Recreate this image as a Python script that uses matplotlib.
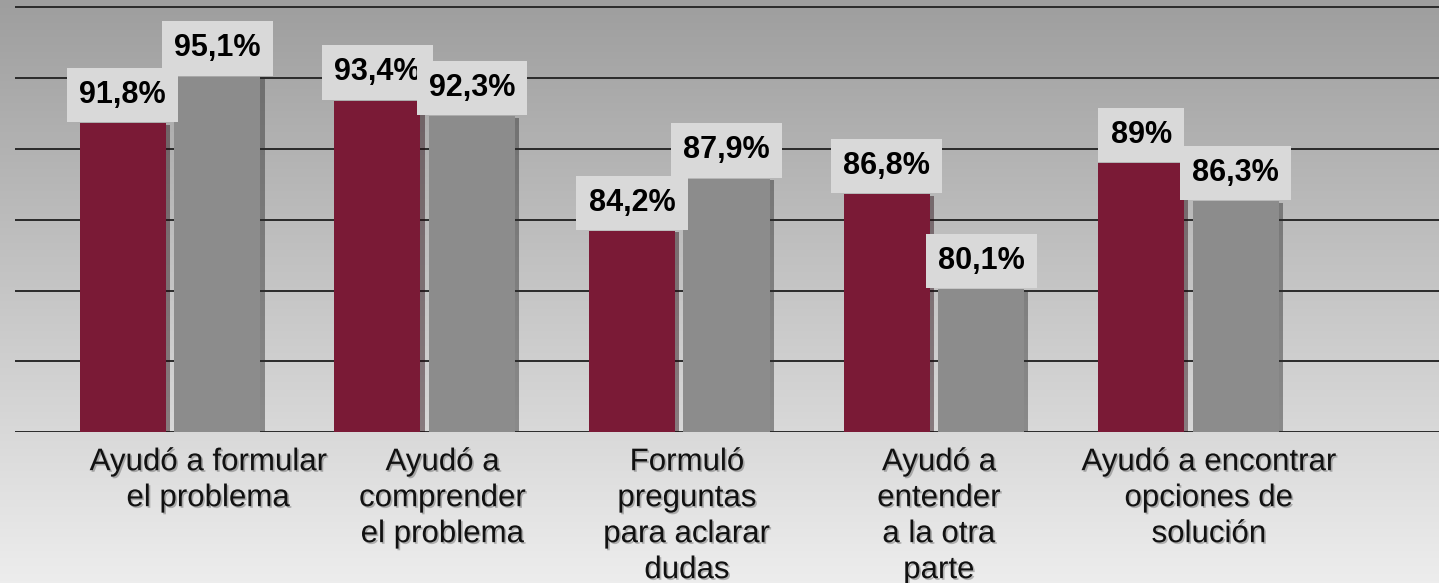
import numpy as np
import matplotlib
matplotlib.use('Agg')
import matplotlib.pyplot as plt
import matplotlib.patheffects as pe
from matplotlib import font_manager

categories = ['Ayudó a formular\nel problema',
              'Ayudó a\ncomprender\nel problema',
              'Formuló\npreguntas\npara aclarar\ndudas',
              'Ayudó a\nentender\na la otra\nparte',
              'Ayudó a encontrar\nopciones de\nsolución']
serie_1 = [91.8, 93.4, 84.2, 86.8, 89.0]
serie_2 = [95.1, 92.3, 87.9, 80.1, 86.3]
etiquetas_1 = ['91,8%', '93,4%', '84,2%', '86,8%', '89%']
etiquetas_2 = ['95,1%', '92,3%', '87,9%', '80,1%', '86,3%']

# small shifts of the category labels, like in the original
label_shift = [0.15, 0.07, 0.03, 0.02, 0.08]

names = set(f.name for f in font_manager.fontManager.ttflist)
narrow = 'Liberation Sans Narrow' if 'Liberation Sans Narrow' in names else 'Liberation Sans'
cat_size = 27 if narrow == 'Liberation Sans Narrow' else 22.5
cat_ls = 0.93 if narrow == 'Liberation Sans Narrow' else 1.26

W, H = 1439, 583
fig = plt.figure(figsize=(W / 100, H / 100), dpi=100)

# background gradient
bg = fig.add_axes([0, 0, 1, 1], zorder=-10)
grad = np.linspace(0, 1, 256).reshape(-1, 1, 1)
top = np.array([0.62, 0.62, 0.62])
bot = np.array([0.93, 0.93, 0.93])
img = top + (bot - top) * grad
bg.imshow(img, aspect='auto', extent=[0, 1, 0, 1])
bg.axis('off')

ax = fig.add_axes([15 / W, 1 - 432.3 / H, 1424 / W, 432.3 / H])
ax.patch.set_alpha(0)
ax.set_ylim(70, 100.5)
ax.set_xlim(-0.609, 4.984)
ax.set_yticks(np.arange(70, 101, 5))
ax.yaxis.grid(True, color='#2a2a2a', linewidth=1.4)
ax.set_axisbelow(True)
for s in ax.spines.values():
    s.set_visible(False)
ax.tick_params(left=False, bottom=False, labelleft=False, labelbottom=False)

x = np.arange(len(categories))
w = 0.338
off = 0.1856
shadow = [pe.SimplePatchShadow(offset=(3, -1), alpha=0.45), pe.Normal()]
b1 = ax.bar(x - off, [v - 70 for v in serie_1], w, bottom=70, color='#7a1a36', zorder=3)
b2 = ax.bar(x + off, [v - 70 for v in serie_2], w, bottom=70, color='#8c8c8c', zorder=3)
for r in list(b1) + list(b2):
    r.set_path_effects(shadow)

for xs, vals, labs in ((x - off, serie_1, etiquetas_1), (x + off, serie_2, etiquetas_2)):
    for xi, v, t in zip(xs, vals, labs):
        ax.annotate(t, (xi, v), xytext=(0, 9.5), textcoords='offset points',
                    ha='center', va='bottom', fontsize=22, fontweight='bold',
                    family='Liberation Sans', color='black', zorder=5,
                    bbox=dict(boxstyle='square,pad=0.4', fc='#d9d9d9', ec='none'))

for xi, c, sh in zip(x, categories, label_shift):
    ax.text(xi + sh, 68.95, c, ha='center', va='top', fontsize=cat_size, family=narrow,
            linespacing=cat_ls, color='#111111', clip_on=False,
            path_effects=[pe.withSimplePatchShadow(offset=(1.2, -1.2), alpha=0.25)])

fig.savefig('out.png', dpi=100)
